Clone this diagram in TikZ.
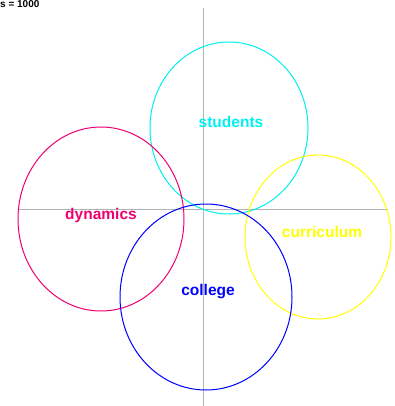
\documentclass[tikz,border=0pt]{standalone}
\usepackage{fontspec}
\setmainfont{Liberation Sans}
\definecolor{dynpink}{RGB}{240,0,110}
\definecolor{ringcyan}{RGB}{0,240,240}
\definecolor{ringyellow}{RGB}{255,255,0}
\definecolor{ringblue}{RGB}{0,0,255}
\definecolor{axisgray}{RGB}{180,180,180}
\tikzset{
  ring/.style={line width=1pt},
  tag/.style={font=\fontsize{15.5}{16}\selectfont\bfseries, inner sep=0pt}
}
\begin{document}
\begin{tikzpicture}[x=1pt,y=-1pt]
        \useasboundingbox (0,0) rectangle (394,406);
        % axes
        \coordinate (T) at (203,8);
        \coordinate (Bo) at (203,406);
        \coordinate (L) at (18,209);
        \coordinate (R) at (388,209);
        \draw[axisgray] (T)--(Bo);
        \draw[axisgray] (L)--(R);
        % rings
        \coordinate (S) at (229,128);
        \coordinate (D) at (101,219);
        \coordinate (Cu) at (318,237);
        \coordinate (Co) at (206,297);
        \draw[ring,ringcyan] (S) ellipse [x radius=79, y radius=86];
        \draw[ring,dynpink] (D) ellipse [x radius=83, y radius=92];
        \draw[ring,ringyellow] (Cu) ellipse [x radius=73, y radius=82];
        \draw[ring,ringblue] (Co) ellipse [x radius=86, y radius=93];
        % labels
        \node[tag,ringcyan] (students) at (231,122) {students};
        \node[tag,dynpink] (dynamics) at (101,215) {dynamics};
        \node[tag,ringyellow] (curriculum) at (322,232) {curriculum};
        \node[tag,ringblue] (college) at (208,292) {college};
        \node[font=\fontsize{10}{10}\selectfont\bfseries, anchor=north west, inner sep=0pt] (count) at (0,0) {s = 1000};
\end{tikzpicture}
\end{document}
